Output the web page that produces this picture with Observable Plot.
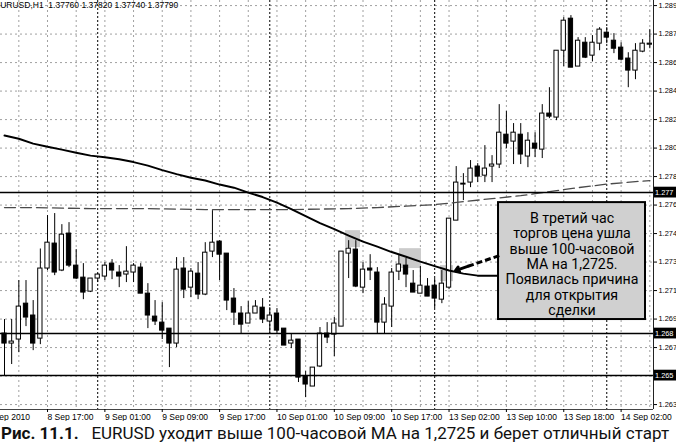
<!DOCTYPE html>
<html><head><meta charset="utf-8">
<script src="https://cdn.jsdelivr.net/npm/d3@7"></script>
<script src="https://cdn.jsdelivr.net/npm/@observablehq/plot@0.6"></script>
<style>
html,body{margin:0;padding:0;background:#fff;}
body{width:676px;height:446px;overflow:hidden;}
#chart svg{display:block;}
#cap{font-family:Roboto,"Open Sans",sans-serif;font-size:17px;line-height:25px;white-space:nowrap;padding-left:1px;color:#111;}
#cap b{font-weight:700;}
</style></head>
<body>
<div id="chart"></div>
<div id="cap"><b>Рис. 11.1.</b>&nbsp;&nbsp;&nbsp;EURUSD уходит выше 100-часовой МА на 1,2725 и берет отличный старт</div>
<script>
// ---- hourly candles (bar 0 = leftmost) ----
const open  = [1.26841,1.26776,1.26802,1.27035,1.26958,1.26808,1.27263,1.27425,1.27250,1.27490,1.27282,1.27204,1.27113,1.27198,1.27211,1.27295,1.27237,1.27224,1.27237,1.27269,1.27100,1.26951,1.26912,1.26873,1.26776,1.27263,1.27139,1.27230,1.27094,1.27373,1.27438,1.27360,1.27068,1.26971,1.26906,1.26971,1.27009,1.26919,1.26971,1.26873,1.26776,1.26802,1.26562,1.26497,1.26627,1.26841,1.26834,1.26886,1.27360,1.27386,1.27139,1.27263,1.27237,1.26912,1.27016,1.27243,1.27282,1.27165,1.27100,1.27146,1.27152,1.27061,1.27139,1.27574,1.27808,1.27821,1.27925,1.27866,1.27925,1.27938,1.28132,1.28087,1.28132,1.27990,1.28074,1.28035,1.28269,1.28243,1.28677,1.28885,1.28574,1.28729,1.28645,1.28723,1.28794,1.28742,1.28697,1.28626,1.28548,1.28671,1.28716];
const high  = [1.26932,1.26932,1.27185,1.27185,1.27055,1.27390,1.27607,1.27620,1.27548,1.27561,1.27386,1.27295,1.27198,1.27230,1.27302,1.27321,1.27282,1.27405,1.27295,1.27295,1.27165,1.27055,1.27042,1.26873,1.27334,1.27334,1.27263,1.27302,1.27431,1.27639,1.27444,1.27360,1.27133,1.27016,1.27048,1.27055,1.27068,1.27009,1.27003,1.26873,1.26841,1.26802,1.26594,1.26620,1.26880,1.26912,1.26945,1.27373,1.27444,1.27444,1.27302,1.27353,1.27269,1.27074,1.27263,1.27347,1.27328,1.27250,1.27276,1.27198,1.27198,1.27250,1.27587,1.27925,1.27879,1.27964,1.27944,1.28061,1.27996,1.28327,1.28282,1.28204,1.28204,1.28145,1.28145,1.28327,1.28437,1.28677,1.28892,1.28905,1.28762,1.28762,1.28775,1.28827,1.28827,1.28788,1.28729,1.28664,1.28723,1.28749,1.28814];
const low   = [1.26568,1.26640,1.26717,1.26886,1.26730,1.26769,1.27250,1.27217,1.27243,1.27269,1.27191,1.27061,1.27107,1.27172,1.27185,1.27191,1.27139,1.27172,1.27172,1.27100,1.26873,1.26893,1.26802,1.26620,1.26750,1.27068,1.27074,1.27061,1.27087,1.27334,1.27185,1.26990,1.26893,1.26841,1.26906,1.26971,1.26906,1.26841,1.26841,1.26763,1.26743,1.26523,1.26425,1.26497,1.26620,1.26776,1.26692,1.26886,1.27198,1.27139,1.27100,1.27185,1.26841,1.26841,1.26880,1.27185,1.27139,1.27107,1.27100,1.27081,1.27003,1.27035,1.27126,1.27574,1.27704,1.27788,1.27821,1.27821,1.27821,1.27912,1.28041,1.27938,1.27938,1.27918,1.27983,1.27977,1.28236,1.28223,1.28574,1.28567,1.28574,1.28626,1.28606,1.28677,1.28723,1.28658,1.28613,1.28437,1.28489,1.28664,1.28690];
const close = [1.26776,1.26789,1.27016,1.26945,1.26776,1.27263,1.27431,1.27237,1.27483,1.27282,1.27198,1.27107,1.27198,1.27224,1.27282,1.27250,1.27211,1.27243,1.27282,1.27100,1.26958,1.26919,1.26860,1.26776,1.27256,1.27126,1.27243,1.27094,1.27366,1.27431,1.27353,1.27055,1.26977,1.26899,1.26971,1.27016,1.26932,1.26958,1.26860,1.26763,1.26795,1.26555,1.26510,1.26620,1.26841,1.26815,1.26906,1.27373,1.27392,1.27146,1.27256,1.27250,1.26912,1.27029,1.27237,1.27289,1.27224,1.27107,1.27152,1.27081,1.27068,1.27165,1.27587,1.27821,1.27814,1.27912,1.27860,1.27912,1.27938,1.28145,1.28074,1.28145,1.28003,1.28093,1.28041,1.28269,1.28249,1.28677,1.28872,1.28567,1.28742,1.28632,1.28729,1.28814,1.28762,1.28690,1.28619,1.28548,1.28677,1.28723,1.28723];

// ---- moving averages (bar index, value) ----
const ma100Bar = [0,2,4,6,8,10,12,14,16,18,20,22,24,26,28,30,32,34,36,38,40,42,44,46,48,50,52,54,56,58,60,62,64,66,68,70];
const ma100Val = [1.28126,1.28106,1.28074,1.28054,1.28035,1.28015,1.27996,1.27986,1.27973,1.27954,1.27931,1.27902,1.27876,1.27853,1.27834,1.27808,1.27788,1.27756,1.27727,1.27691,1.27649,1.27603,1.27558,1.27519,1.27477,1.27438,1.27405,1.27370,1.27340,1.27308,1.27279,1.27250,1.27230,1.27217,1.27217,1.27217];
const ma200Bar = [0,4,8,12,16,20,24,28,32,36,40,44,48,52,56,60,64,68,72,76,80,84,88,90];
const ma200Val = [1.27659,1.27659,1.27655,1.27652,1.27652,1.27652,1.27649,1.27646,1.27646,1.27646,1.27646,1.27649,1.27652,1.27659,1.27668,1.27678,1.27697,1.27717,1.27736,1.27762,1.27788,1.27811,1.27827,1.27834];

// ---- horizontal levels ----
const levels = [1.27756, 1.26841, 1.26568];
const levelLabels = ["1.277", "1.268", "1.265"];

// ---- axes ----
const priceTicks = [1.2638,1.26565,1.2675,1.26935,1.2712,1.27305,1.2749,1.27675,1.2786,1.28045,1.2823,1.28415,1.286,1.28785,1.2897];
const priceLabels = ["1.263","","1.267","1.269","1.271","1.273","1.274","1.276","1.278","1.280","1.282","1.284","1.286","1.287","1.289"];
const timeBar = [-2.5,6,14,22,30,38,46,54,62,70,78,86];
const timeLabels = ["8 Sep 2010","8 Sep 17:00","9 Sep 01:00","9 Sep 09:00","9 Sep 17:00","10 Sep 01:00","10 Sep 09:00","10 Sep 17:00","13 Sep 02:00","13 Sep 10:00","13 Sep 18:00","14 Sep 02:00"];
const gridBar = [2,6,10,14,18,22,26,30,34,38,42,46,50,54,58,62,66,70,74,78,82,86,90];
const daySepBar = [13,37,60,84];
const header = "EURUSD,H1  1.37760 1.37820 1.37740 1.37790";

// ---- annotations ----
const touchZones = [
  {b1:47.56,b2:49.65,p1:1.27399,p2:1.27509},
  {b1:55.09,b2:58.16,p1:1.27263,p2:1.27392},
  {b1:60.81,b2:62.62,p1:1.27178,p2:1.27282}
];
const noteBox = {b1:68.9,b2:89.4,p1:1.26932,p2:1.27691};
const noteText = "В третий час\nторгов цена ушла\nвыше 100-часовой\nМА на 1,2725.\nПоявилась причина\nдля открытия\nсделки";
const noteCenter = {b:79.15,p:1.27292};
const arrowFrom = {b:69.0,p:1.27347};
const arrowMid = {b:64.6,p:1.27277};
const arrowTip = {b:62.9,p:1.27250};

const bars = open.map((o,i)=>({i, o, h:high[i], l:low[i], c:close[i]}));
const ma100 = ma100Bar.map((b,k)=>({b, v:ma100Val[k]}));
const ma200 = ma200Bar.map((b,k)=>({b, v:ma200Val[k]}));

const XD = [-0.558, 90.516];
const YD = [1.26348, 1.29003];

const chart = Plot.plot({
  width:676, height:421,
  marginLeft:0, marginRight:23, marginTop:0, marginBottom:12,
  x:{type:"linear", domain:XD, axis:null},
  y:{type:"linear", domain:YD, axis:null},
  style:{fontFamily:"'Liberation Sans', Arial, sans-serif", fontSize:"8.5px", background:"#fff", color:"#000", overflow:"hidden"},
  marks:[
    Plot.ruleY(priceTicks, {stroke:"#a0a0a0", strokeDasharray:"2,3"}),
    Plot.ruleX(gridBar, {stroke:"#a0a0a0", strokeDasharray:"2,3"}),
    Plot.ruleX(daySepBar, {stroke:"#000", strokeDasharray:"2,2"}),
    Plot.rect(touchZones, {x1:"b1", x2:"b2", y1:"p1", y2:"p2", fill:"#cbcbcb"}),
    Plot.ruleX(bars, {x:"i", y1:"l", y2:"h", stroke:"#000", strokeWidth:1}),
    Plot.rect(bars, {x1:d=>d.i-0.3, x2:d=>d.i+0.3, y1:"o", y2:"c", fill:d=>d.c>=d.o?"#fff":"#000", stroke:"#000", strokeWidth:1}),
    Plot.line(ma200, {x:"b", y:"v", stroke:"#4a4a4a", strokeWidth:1.3, strokeDasharray:"11,5"}),
    Plot.line(ma100, {x:"b", y:"v", stroke:"#000", strokeWidth:2}),
    Plot.ruleY(levels, {stroke:"#000", strokeWidth:1.5}),
    Plot.ruleX([XD[1]], {stroke:"#222", strokeWidth:1}),
    Plot.ruleY([YD[0]], {stroke:"#444", strokeWidth:1}),
    Plot.axisY({anchor:"right", ticks:priceTicks, tickFormat:d=>priceLabels[priceTicks.indexOf(d)], tickSize:3, tickPadding:2, fontSize:7.4, label:null}),
    Plot.axisX({anchor:"bottom", ticks:timeBar, tickFormat:d=>timeLabels[timeBar.indexOf(d)], tickSize:3, tickPadding:1, textAnchor:"start", fontSize:8.5, label:null}),
    Plot.rect(levels, {x1:()=>90.62, x2:()=>94, y1:d=>d-0.00035, y2:d=>d+0.00035, fill:"#000"}),
    Plot.text(levels, {x:()=>90.72, y:d=>d, text:(d,i)=>levelLabels[i], fill:"#fff", textAnchor:"start", fontSize:7.4}),
    Plot.text([header], {frameAnchor:"top-left", text:d=>d, dx:-6, dy:1, lineAnchor:"top", textAnchor:"start", fontSize:8.5}),
    Plot.rect([noteBox], {x1:"b1", x2:"b2", y1:"p1", y2:"p2", fill:"#d0d0d0", stroke:"#000", strokeWidth:2}),
    Plot.link([{a:arrowFrom, z:arrowMid}], {x1:d=>d.a.b, y1:d=>d.a.p, x2:d=>d.z.b, y2:d=>d.z.p, stroke:"#000", strokeWidth:3, strokeDasharray:"6,3"}),
    Plot.arrow([{a:arrowMid, z:arrowTip}], {x1:d=>d.a.b, y1:d=>d.a.p, x2:d=>d.z.b, y2:d=>d.z.p, stroke:"#000", strokeWidth:3, headLength:9, headAngle:70}),
    Plot.text([noteText], {x:()=>noteCenter.b, y:()=>noteCenter.p, text:d=>d, fontFamily:"Roboto, sans-serif", fontSize:14.2, lineHeight:1.085, fill:"#000"})
  ]
});
document.getElementById("chart").appendChild(chart);
</script>
</body></html>
